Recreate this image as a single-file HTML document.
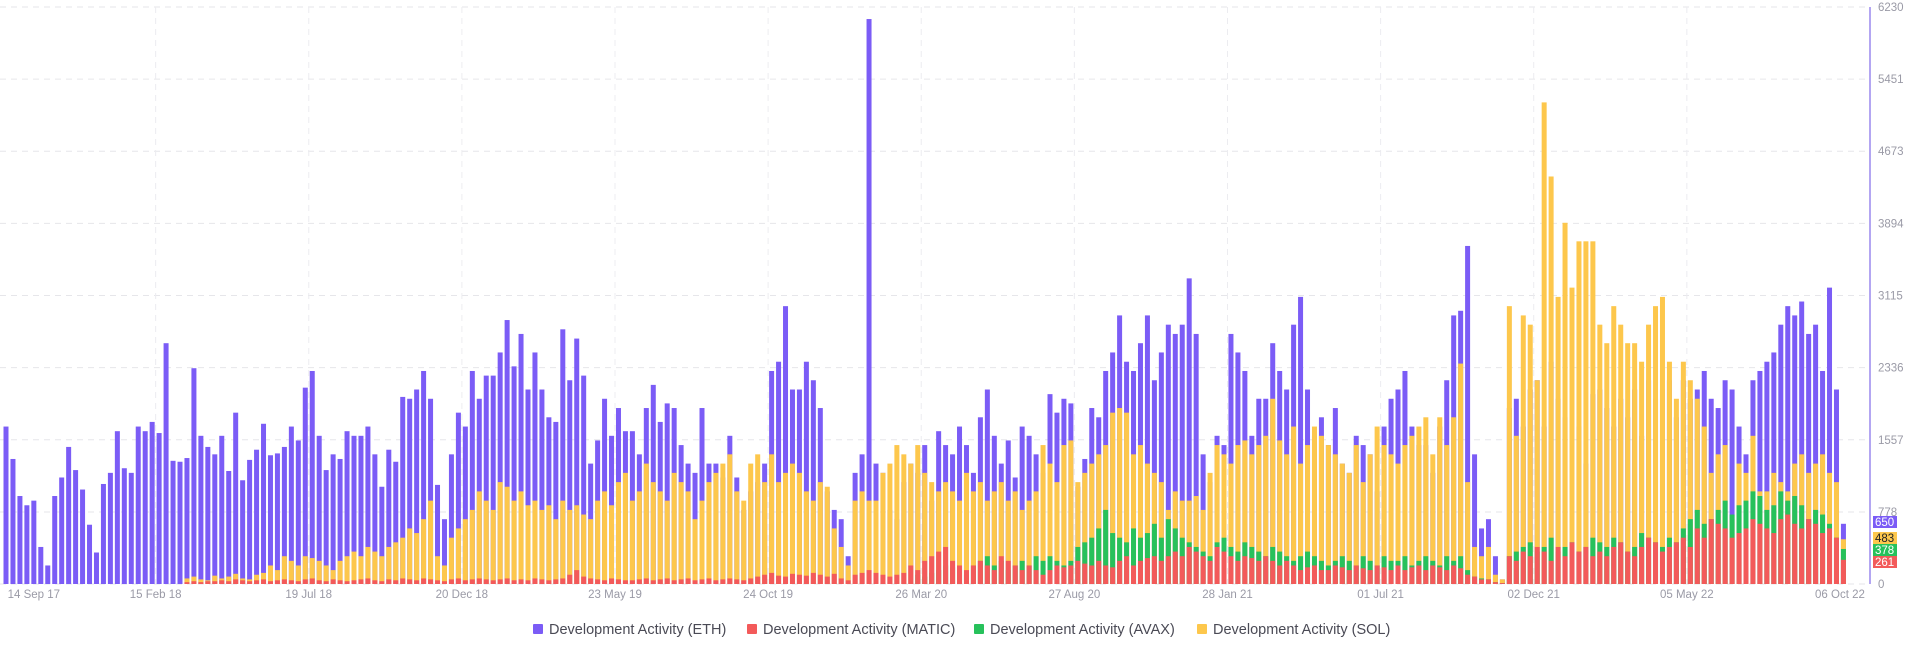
<!DOCTYPE html>
<html><head><meta charset="utf-8"><style>
html,body{margin:0;padding:0;background:#fff;width:1920px;height:650px;overflow:hidden;font-family:"Liberation Sans",sans-serif;}
#chart{position:absolute;left:0;top:0;}
</style></head><body>
<svg id="chart" width="1920" height="650" xmlns="http://www.w3.org/2000/svg"></svg>
<script>
const yTicks=[0,778,1557,2336,3115,3894,4673,5451,6230];
const xLabels=["14 Sep 17","15 Feb 18","19 Jul 18","20 Dec 18","23 May 19","24 Oct 19","26 Mar 20","27 Aug 20","28 Jan 21","01 Jul 21","02 Dec 21","05 May 22","06 Oct 22"];
const xLabelIdx=[4,21.5,43.5,65.5,87.5,109.5,131.5,153.5,175.5,197.5,219.5,241.5,263.5];
const eth=[1700,1350,950,850,900,400,200,950,1150,1480,
1230,1020,640,340,1080,1200,1650,1250,1200,1700,
1650,1750,1630,2600,1330,1320,1360,2330,1600,1480,
1400,1600,1220,1850,1120,1340,1450,1730,1390,1410,
1480,1700,1550,2120,2300,1600,1230,1400,1350,1650,
1600,1600,1700,1400,1050,1450,1320,2020,2000,2100,
2300,2000,1070,700,1400,1850,1700,2300,2000,2250,
2250,2500,2850,2350,2700,2100,2500,2100,1800,1750,
2750,2200,2650,2250,1300,1550,2000,1600,1900,1650,
1650,1400,1900,2150,1750,1950,1900,1500,1300,1200,
1900,1300,1300,1150,1600,1150,800,1000,1100,1300,
2300,2400,3000,2100,2100,2400,2200,1900,1000,800,
700,300,1200,1400,6100,1300,1200,800,700,1100,
1300,1200,1500,900,1650,1500,1400,1700,1500,1200,
1800,2100,1600,1300,1550,1150,1700,1600,1400,1200,
2050,1850,2000,1950,1050,1350,1900,1800,2300,2500,
2900,2400,2300,2600,2900,2200,2500,2800,2700,2800,
3300,2700,1400,1100,1600,1500,2700,2500,2300,1600,
2000,2000,2600,2300,2100,2800,3100,2100,1600,1800,
1500,1900,1300,1200,1600,1500,1400,1000,1700,2000,
2100,2300,1700,1500,1500,1200,1700,2200,2900,2950,
3650,1400,600,700,300,50,1900,2000,1700,2100,
2200,1700,2400,2000,1800,1300,1700,1300,2050,2100,
1900,1700,2000,1800,2100,1600,2200,2000,2100,2200,
1800,2200,2000,2100,2300,2000,1900,2200,2100,1700,
1400,2200,2300,2400,2500,2800,3000,2900,3050,2700,
2800,2300,3200,2100,650];
const sol=[0,0,0,0,0,0,0,0,0,0,
0,0,0,0,0,0,0,0,0,0,
0,0,0,0,0,0,60,80,50,40,
90,60,80,110,60,50,100,120,200,150,
300,250,200,300,280,250,200,150,250,300,
350,300,400,350,300,400,450,500,600,550,
700,900,300,200,500,600,700,800,1000,900,
800,1100,1050,900,1000,850,900,800,850,700,
900,800,850,750,700,900,1000,850,1100,1200,
900,1000,1300,1100,1000,900,1200,1100,1000,700,
900,1100,1200,1300,1400,1000,900,1300,1400,1100,
1400,1100,1200,1300,1200,1000,900,1100,1050,600,
400,200,900,1000,900,900,1200,1300,1500,1400,
1300,1500,1200,1100,1000,1100,1000,900,1200,1000,
1100,900,1000,1100,900,1000,800,900,1000,1500,
1300,1100,1500,1550,1100,1200,1300,1400,1500,1850,
1900,1850,1400,1500,1300,1200,1100,800,1000,900,
900,950,800,1200,1500,1400,1300,1500,1550,1400,
1500,1600,2000,1550,1400,1700,1300,1500,1700,1600,
1500,1400,1300,1200,1500,1100,1400,1700,1500,1400,
1300,1500,1600,1700,1800,1400,1800,1500,1800,2380,
1100,400,300,400,100,50,3000,1600,2900,2800,
2200,5200,4400,3100,3900,3200,3700,3700,3700,2800,
2600,3000,2800,2600,2600,2400,2800,3000,3100,2400,
2000,2400,2200,2000,1700,1200,1400,1500,700,1300,
1200,1600,1000,1000,1200,1100,1000,1300,1400,1200,
1300,1400,1200,1100,483];
const avax=[0,0,0,0,0,0,0,0,0,0,0,0,0,0,0,0,0,0,0,0,
0,0,0,0,0,0,0,0,0,0,0,0,0,0,0,0,0,0,0,0,
0,0,0,0,0,0,0,0,0,0,0,0,0,0,0,0,0,0,0,0,
0,0,0,0,0,0,0,0,0,0,0,0,0,0,0,0,0,0,0,0,
0,0,0,0,0,0,0,0,0,0,0,0,0,0,0,0,0,0,0,0,
0,0,0,0,0,0,0,0,0,0,0,0,0,0,0,0,0,0,0,0,
0,0,0,0,0,0,0,0,0,0,0,
100,80,120,150,200,180,150,100,200,
250,300,200,250,150,200,250,200,300,250,
300,250,200,250,400,450,500,600,800,550,
500,450,600,500,550,650,500,700,600,500,
450,400,350,300,450,500,400,350,450,400,
350,300,400,350,300,250,300,350,300,250,
200,250,300,250,200,300,250,200,300,250,
250,300,200,250,300,250,200,300,250,300,
150,80,60,50,20,10,300,350,400,450,
350,400,500,350,400,450,350,400,500,450,
400,500,450,350,400,550,500,450,400,500,
450,600,700,800,650,700,800,900,750,850,
900,1000,950,800,850,1000,900,950,850,700,
800,750,650,500,378];
const matic=[0,0,0,0,0,0,0,0,0,0,0,0,0,0,0,0,0,0,0,0,
0,0,0,0,0,0,20,30,20,30,
30,40,30,50,40,30,40,50,30,40,
50,40,30,50,60,40,30,50,40,30,
40,50,60,40,30,50,40,60,50,40,
60,50,40,30,50,60,40,50,60,50,
40,50,60,40,50,40,60,50,40,50,
60,100,150,80,60,50,40,60,50,40,
40,50,60,40,50,60,40,50,60,40,
50,60,40,50,60,50,40,60,80,100,
120,90,80,110,100,90,120,100,80,110,
60,40,100,120,150,120,100,80,100,120,
200,150,250,300,350,400,250,200,150,200,
250,200,150,300,250,200,150,200,150,100,
150,200,180,200,250,220,200,250,200,180,
250,300,200,250,280,300,250,300,350,300,
400,350,300,250,400,350,300,250,300,280,
250,300,250,200,250,200,150,180,200,150,
150,200,180,150,200,170,150,200,180,150,
200,150,180,200,150,200,180,150,200,170,
100,80,50,50,20,10,300,250,350,300,
400,350,250,400,300,450,350,400,300,350,
300,400,450,350,300,400,500,450,350,400,
450,500,400,600,500,700,650,600,500,550,
600,700,650,600,550,700,750,650,600,700,
650,550,600,500,261];

const NS="http://www.w3.org/2000/svg";
const svg=document.getElementById('chart');
const X0=6, STEP=6.96, BW=5, Y0=584, YT=7, YMAX=6230, AXX=1870;
function xs(i){return X0+i*STEP;}
function ys(v){return Y0-(v/YMAX)*(Y0-YT);}
function mk(tag,attrs,parent){const e=document.createElementNS(NS,tag);for(const k in attrs)e.setAttribute(k,attrs[k]);(parent||svg).appendChild(e);return e;}

const grid=mk('g',{});


yTicks.forEach(v=>{
  const l=mk('line',{x1:0,x2:AXX,y1:ys(v),y2:ys(v),stroke:'#e6e6ea','stroke-width':1,'stroke-dasharray':'6,5'},grid);
  
  
  const t=mk('text',{x:AXX+8,y:ys(v)+4,'font-size':11.5,fill:'#9a9aa6'});
  t.textContent=v;
  
  
});
xLabels.forEach((s,k)=>{
  const x=xs(xLabelIdx[k]);
  if(k>0&&k<xLabels.length-1){
    const l=mk('line',{x1:x,x2:x,y1:YT,y2:Y0,stroke:'#ececf0','stroke-width':1,'stroke-dasharray':'6,5'},grid);
    
    
  }
  const t=mk('text',{x:x,y:Y0+14,'font-size':11.5,fill:'#9a9aa6','text-anchor':'middle'});
  t.textContent=s;
  
  
});
const axis=mk('line',{x1:AXX,x2:AXX,y1:YT,y2:Y0,stroke:'#b3a6f2','stroke-width':2});



const series=[[eth,'#7b5cf6','eth'],[sol,'#fdc74c','sol'],[avax,'#27c15b','avax'],[matic,'#f35a5a','matic']];
series.forEach(([arr,col,nm])=>{
  const g=mk('g',{fill:col});
  
  
  arr.forEach((v,i)=>{
    if(v<=0)return;
    const r=mk('rect',{x:xs(i)-BW/2,y:ys(v),width:BW,height:Y0-ys(v)},g);
    
    
  });
});

const badges=[['650','#7b5cf6','#fff',516],['483','#fdc74c','#222',532],['378','#27c15b','#fff',544],['261','#f35a5a','#fff',556]];
badges.forEach(([t,bg,fg,y])=>{
  const r=mk('rect',{x:AXX+3,y:y,width:24,height:12,fill:bg});
  
  
  const tx=mk('text',{x:AXX+5,y:y+10,'font-size':11.5,fill:fg});
  tx.textContent=t;
  
  
});

const legend=[['Development Activity (ETH)','#7b5cf6',533],['Development Activity (MATIC)','#f35a5a',747],['Development Activity (AVAX)','#27c15b',974],['Development Activity (SOL)','#fdc74c',1197]];
legend.forEach(([t,c,x])=>{
  const r=mk('rect',{x:x,y:624,width:10,height:10,fill:c,rx:1});
  
  
  const tx=mk('text',{x:x+16,y:634,'font-size':14.5,fill:'#4a4a55'});
  tx.textContent=t;
  
  
});
</script>
</body></html>
